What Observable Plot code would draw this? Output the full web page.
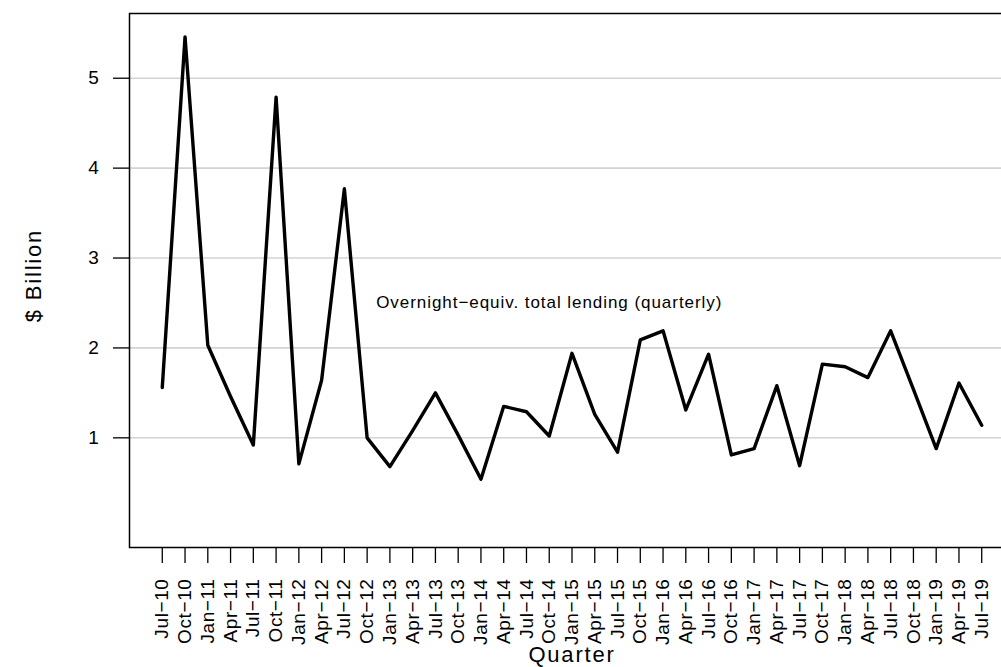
<!DOCTYPE html>
<html>
<head>
<meta charset="utf-8">
<script src="https://cdn.jsdelivr.net/npm/d3@7"></script>
<script src="https://cdn.jsdelivr.net/npm/@observablehq/plot@0.6"></script>
<style>
  html, body { margin: 0; padding: 0; background: #fff; overflow: hidden; }
  #chart { width: 1001px; height: 667px; overflow: hidden; }
  #chart svg { max-width: none !important; }
</style>
</head>
<body>
<div id="chart"></div>
<script>
const quarters = ["Jul−10","Oct−10","Jan−11","Apr−11","Jul−11","Oct−11","Jan−12","Apr−12","Jul−12","Oct−12",
  "Jan−13","Apr−13","Jul−13","Oct−13","Jan−14","Apr−14","Jul−14","Oct−14","Jan−15","Apr−15",
  "Jul−15","Oct−15","Jan−16","Apr−16","Jul−16","Oct−16","Jan−17","Apr−17","Jul−17","Oct−17",
  "Jan−18","Apr−18","Jul−18","Oct−18","Jan−19","Apr−19","Jul−19"];
const lending = [1.56, 5.46, 2.03, 1.46, 0.92, 4.79, 0.71, 1.64, 3.77, 1.00,
  0.68, 1.08, 1.50, 1.03, 0.54, 1.35, 1.29, 1.02, 1.94, 1.26,
  0.84, 2.09, 2.19, 1.31, 1.93, 0.81, 0.88, 1.58, 0.69, 1.82,
  1.79, 1.67, 2.19, 1.54, 0.88, 1.61, 1.14];
const yTicks = [1, 2, 3, 4, 5];
const annotationText = "Overnight−equiv. total lending (quarterly)";
const xTitle = "Quarter";
const yTitle = "$ Billion";

const data = quarters.map((q, i) => ({i, q, v: lending[i]}));
const n = quarters.length;
const pad = (n - 1) * 0.04;

const chart = Plot.plot({
  width: 1014,
  height: 667,
  marginLeft: 129,
  marginRight: 0,
  marginTop: 13,
  marginBottom: 120,
  style: {fontFamily: "'Liberation Sans', Arial, sans-serif", background: "#fff", color: "#000", maxWidth: "none"},
  x: {domain: [-pad, n - 1 + pad]},
  y: {domain: [-0.22, 5.72]},
  marks: [
    Plot.gridY(yTicks, {stroke: "#d3d3d3", strokeOpacity: 1, strokeWidth: 1.6}),
    Plot.line(data, {x: "i", y: "v", stroke: "#000", strokeWidth: 3.4, strokeLinejoin: "round", strokeLinecap: "round"}),
    Plot.frame({stroke: "#000", strokeWidth: 1.5}),
    Plot.axisX(d3.range(n), {
      tickFormat: i => quarters[i], tickRotate: -90, tickSize: 16, tickPadding: 15,
      fontSize: 19, label: null, stroke: "#000", strokeWidth: 1.3
    }),
    Plot.axisY(yTicks, {
      tickFormat: d => String(d), tickSize: 16, tickPadding: 14, fontSize: 19, label: null, stroke: "#000", strokeWidth: 1.3
    }),
    Plot.text([annotationText], {x: 17, y: 2.5, text: d => d, fontSize: 17, textAnchor: "middle", lineAnchor: "middle", fill: "#000"}),
    Plot.text([xTitle], {frameAnchor: "bottom", text: d => d, dy: 107, fontSize: 22, textAnchor: "middle", lineAnchor: "middle", fill: "#000"}),
    Plot.text([yTitle], {frameAnchor: "left", text: d => d, dx: -96, dy: -5, rotate: -90, fontSize: 22, textAnchor: "middle", lineAnchor: "middle", fill: "#000"})
  ]
});
document.getElementById("chart").appendChild(chart);

// letter spacing to mimic the wider glyph advance of the original rendering
d3.select(chart).selectAll("text").each(function () {
  const t = this.textContent;
  let ls = 0.6;
  if (t === annotationText) ls = 0.95;
  else if (t === xTitle || t === yTitle) ls = 1.8;
  this.setAttribute("letter-spacing", ls);
});
</script>
</body>
</html>
